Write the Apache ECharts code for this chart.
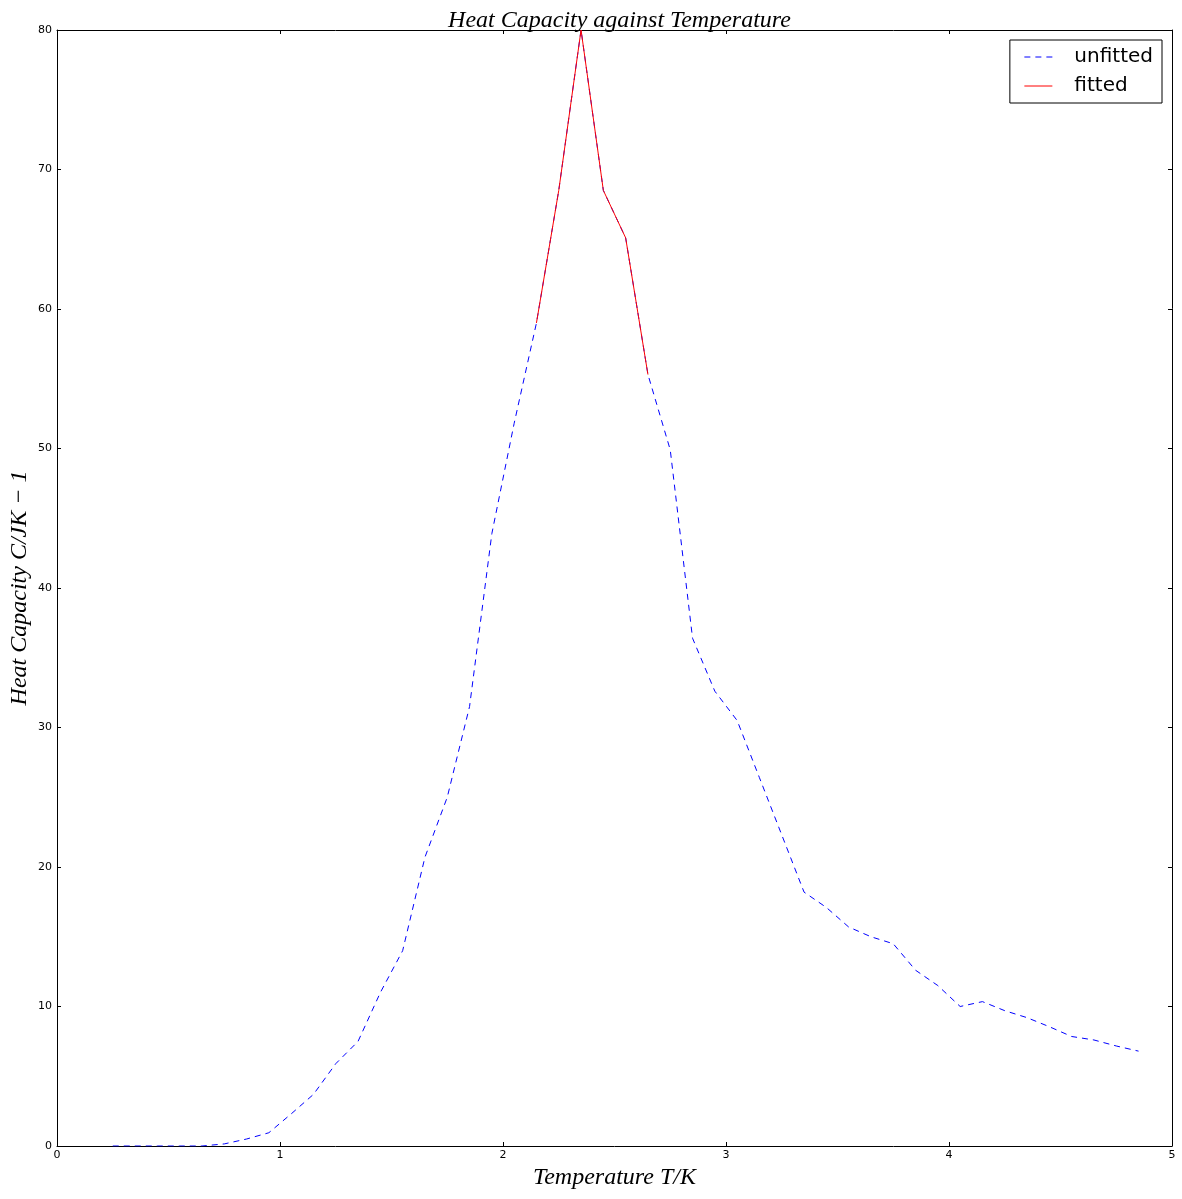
<!DOCTYPE html>
<html>
<head>
<meta charset="utf-8">
<script src="https://cdn.jsdelivr.net/npm/echarts@6/dist/echarts.min.js"></script>
<style>
html,body{margin:0;padding:0;background:#fff;}
#chart{width:1182px;height:1199px;}
</style>
</head>
<body>
<div id="chart"></div>
<script>
// Temperatures (T/K)
const temperatures = [0.25,0.35,0.45,0.55,0.65,0.75,0.85,0.95,1.05,1.15,1.25,1.35,1.45,1.55,1.65,1.75,1.85,1.95,2.05,2.15,2.25,2.35,2.45,2.55,2.65,2.75,2.85,2.95,3.05,3.15,3.25,3.35,3.45,3.55,3.65,3.75,3.85,3.95,4.05,4.15,4.25,4.35,4.45,4.55,4.65,4.75,4.85];
// Heat capacity, unfitted
const unfittedC = [0,0,0,0,0,0.15,0.5,0.95,2.3,3.7,5.9,7.5,11.0,14.0,20.7,25.0,31.5,43.9,51.8,59.0,68.5,80.0,68.5,65.1,55.3,49.9,36.4,32.6,30.5,26.4,22.3,18.2,17.1,15.7,15.0,14.5,12.6,11.5,10.0,10.35,9.7,9.2,8.55,7.85,7.6,7.17,6.8];
// Fitted region
const fittedT = [2.15,2.25,2.35,2.45,2.55,2.65];
const fittedC = [59.0,68.5,80.0,68.5,65.1,55.3];
// Axis ticks
const xTicks = {min:0,max:5,interval:1};
const yTicks = {min:0,max:80,interval:10};

const unfittedData = temperatures.map((t,i)=>[t,unfittedC[i]]);
const fittedData = fittedT.map((t,i)=>[t,fittedC[i]]);

const serif = '"Liberation Serif", "DejaVu Serif", serif';
const sans = '"DejaVu Sans", sans-serif';

const chart = echarts.init(document.getElementById('chart'));
const tickStyle = {show:true, inside:true, length:4, lineStyle:{color:'#000',width:1}};
const axisLineStyle = {show:true, onZero:false, lineStyle:{color:'#000',width:1}};
chart.setOption({
  animation:false,
  backgroundColor:'#fff',
  title:{
    text:'Heat Capacity against Temperature',
    left:614.5, textAlign:'center', top:4,
    textStyle:{fontFamily:serif, fontStyle:'italic', fontWeight:'normal', fontSize:24, color:'#000'}
  },
  legend:{
    orient:'vertical',
    right:20, top:40,
    backgroundColor:'#fff',
    borderColor:'#000', borderWidth:1, borderRadius:0,
    padding:[7,9,7,14],
    itemWidth:28, itemHeight:20, itemGap:9,
    itemStyle:{opacity:0, borderWidth:0},
    lineStyle:{width:1},
    textStyle:{fontFamily:sans, fontSize:20, color:'#000', padding:[0,0,0,17], lineHeight:20},
    data:['unfitted','fitted']
  },
  grid:{left:57, top:30, right:10, bottom:53, containLabel:false, outerBoundsMode:'none'},
  xAxis:[{
    type:'value', min:xTicks.min, max:xTicks.max, interval:xTicks.interval,
    position:'bottom',
    name:'Temperature T/K', nameLocation:'middle', nameGap:20, nameMoveOverlap:false,
    nameTextStyle:{fontFamily:serif, fontStyle:'italic', fontSize:24, color:'#000'},
    axisLine:axisLineStyle, axisTick:tickStyle,
    axisLabel:{fontFamily:sans, fontSize:11, color:'#000', margin:4},
    splitLine:{show:false}
  },{
    type:'value', min:xTicks.min, max:xTicks.max, interval:xTicks.interval,
    position:'top',
    axisLine:axisLineStyle, axisTick:tickStyle,
    axisLabel:{show:false}, splitLine:{show:false}
  }],
  yAxis:[{
    type:'value', min:yTicks.min, max:yTicks.max, interval:yTicks.interval,
    position:'left',
    name:'Heat Capacity C/JK \u2212 1', nameLocation:'middle', nameGap:25, nameRotate:90, nameMoveOverlap:false,
    nameTextStyle:{fontFamily:serif, fontStyle:'italic', fontSize:24, color:'#000'},
    axisLine:axisLineStyle, axisTick:tickStyle,
    axisLabel:{fontFamily:sans, fontSize:11, color:'#000', margin:5},
    splitLine:{show:false}
  },{
    type:'value', min:yTicks.min, max:yTicks.max, interval:yTicks.interval,
    position:'right',
    axisLine:axisLineStyle, axisTick:tickStyle,
    axisLabel:{show:false}, splitLine:{show:false}
  }],
  series:[{
    name:'unfitted', type:'line', data:unfittedData,
    symbol:'none', showSymbol:false, smooth:false,
    lineStyle:{color:'#0000ff', width:1, type:[6,5]},
    itemStyle:{color:'#0000ff'}
  },{
    name:'fitted', type:'line', data:fittedData,
    symbol:'none', showSymbol:false, smooth:false,
    lineStyle:{color:'#ff0000', width:1, type:'solid'},
    itemStyle:{color:'#ff0000'}
  }]
});
</script>
</body>
</html>
